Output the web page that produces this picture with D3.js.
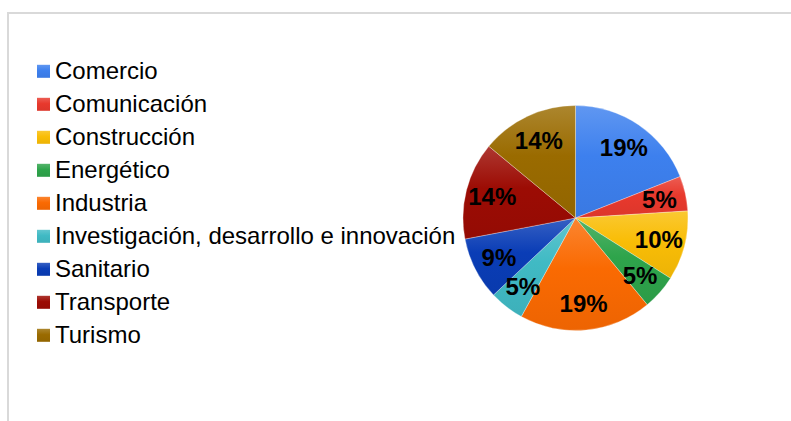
<!DOCTYPE html>
<html>
<meta charset="utf-8" />
<style>
	html, body { margin: 0; padding: 0; background: #fff; }
	svg { display: block; }
	text { font-family: "Liberation Sans", Arial, sans-serif; }
</style>
<svg width="791" height="421"></svg>
<script src="https://d3js.org/d3.v7.min.js"></script>
<script>
	var categories = ["Comercio", "Comunicación", "Construcción", "Energético", "Industria",
		"Investigación, desarrollo e innovación", "Sanitario", "Transporte", "Turismo"];
	var values = [19, 5, 10, 5, 19, 5, 9, 14, 14];
	var colors = ["#3d80ee", "#e8392d", "#f9bd06", "#2ea44b", "#fa6a02", "#40bac4", "#0a3db6", "#9c0c04", "#9a6b00"];

	var svg = d3.select("svg");

	// frame
	svg.append("rect")
		.attr("x", 8).attr("y", 13)
		.attr("width", 800).attr("height", 420)
		.attr("fill", "none")
		.attr("stroke", "#d9d9d9")
		.attr("stroke-width", 2);

	var data = categories.map(function (c, i) { return { name: c, value: values[i], color: colors[i] }; });

	// gradients, lighter on top
	var defs = svg.append("defs");
	data.forEach(function (d, i) {
		var g = defs.append("linearGradient")
			.attr("id", "grad" + i)
			.attr("x1", 0).attr("y1", 0).attr("x2", 0).attr("y2", 1);
		g.append("stop").attr("offset", "0%").attr("stop-color", d3.interpolateRgb(d.color, "#fff")(0.18));
		g.append("stop").attr("offset", "45%").attr("stop-color", d.color);
		g.append("stop").attr("offset", "100%").attr("stop-color", d3.color(d.color).darker(0.15));
	});

	var cx = 575.5, cy = 218, r = 112.5;
	var pie = d3.pie().sort(null).value(function (d) { return d.value; });
	var arc = d3.arc().innerRadius(0).outerRadius(r);
	var labelArc = d3.arc().innerRadius(86).outerRadius(86);

	var g = svg.append("g").attr("transform", "translate(" + cx + "," + cy + ")");
	var arcs = pie(data);

	g.selectAll("path")
		.data(arcs)
		.enter()
		.append("path")
		.attr("d", arc)
		.attr("fill", function (d, i) { return "url(#grad" + i + ")"; })
		.attr("stroke", "rgba(255,255,255,0.5)")
		.attr("stroke-width", 0.6);

	g.selectAll("text.lbl")
		.data(arcs)
		.enter()
		.append("text")
		.attr("class", "lbl")
		.attr("transform", function (d) { return "translate(" + labelArc.centroid(d) + ")"; })
		.attr("text-anchor", "middle")
		.attr("dy", "0.36em")
		.attr("font-size", 24)
		.attr("font-weight", "bold")
		.attr("fill", "#000")
		.text(function (d) { return d.data.value + "%"; });

	// legend
	var legend = svg.append("g");
	var rows = legend.selectAll("g")
		.data(data)
		.enter()
		.append("g")
		.attr("transform", function (d, i) { return "translate(37," + (71.3 + i * 33) + ")"; });

	rows.append("rect")
		.attr("x", 0).attr("y", -6.5)
		.attr("width", 13).attr("height", 13)
		.attr("fill", function (d, i) { return "url(#grad" + i + ")"; });

	rows.append("text")
		.attr("x", 18)
		.attr("y", 8)
		.attr("font-size", 24)
		.attr("fill", "#000")
		.text(function (d) { return d.name; });
</script>
</html>
